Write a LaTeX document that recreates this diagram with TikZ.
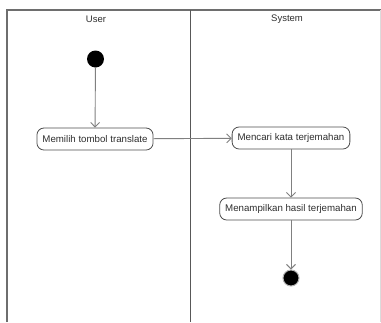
\documentclass[tikz,border=0pt]{standalone}
\usepackage{fontspec}
\setmainfont{Liberation Sans}
\usepackage{xcolor}
\usetikzlibrary{arrows.meta}

\definecolor{garis}{HTML}{808080}
\definecolor{bingkai}{HTML}{6E6E6E}
\definecolor{teks}{HTML}{2E2E2E}

\tikzset{
	aktivitas/.style={draw=teks!85,line width=0.8pt,rounded corners=7pt,minimum height=22pt,inner xsep=5.5pt,font=\fontsize{9.7}{11}\selectfont,text=teks},
	alur/.style={draw=garis,line width=0.9pt,-{Straight Barb[length=4.5pt,width=9pt,line width=0.9pt]}},
	lajur/.style={font=\fontsize{9.5}{11}\selectfont,text=teks},
	garislajur/.style={draw=bingkai,line width=1.2pt}
}

\begin{document}
\begin{tikzpicture}[x=1pt,y=-1pt]
				\useasboundingbox (0,0) rectangle (381,322);
				\draw[garislajur] (7,322) -- (7,10) -- (381,10);
				\draw[garislajur,draw=bingkai!25,line width=0.8pt] (380,10) -- (380,322);
				\draw[garislajur,line width=1.6pt,draw=bingkai!80!black] (190.5,10) -- (190.5,322);
				\node[lajur] (user) at (96,19) {User};
				\node[lajur] (system) at (287,19) {System};
				\node[circle,fill=black,inner sep=0pt,minimum size=17pt] (mulai) at (95.5,59) {};
				\node[aktivitas] (memilih) at (95,139) {Memilih tombol translate};
				\node[aktivitas] (mencari) at (291,138) {Mencari kata terjemahan};
				\node[aktivitas] (menampilkan) at (291,209) {Menampilkan hasil terjemahan};
				\node[circle,draw=garis!60,line width=1pt,fill=black,inner sep=0pt,minimum size=16pt] (selesai) at (291,278) {};
				\draw[alur] (mulai) -- (memilih);
				\draw[alur] (memilih) -- (mencari);
				\draw[alur] (mencari) -- (menampilkan);
				\draw[alur] (menampilkan) -- (selesai);
		\end{tikzpicture}
\end{document}
